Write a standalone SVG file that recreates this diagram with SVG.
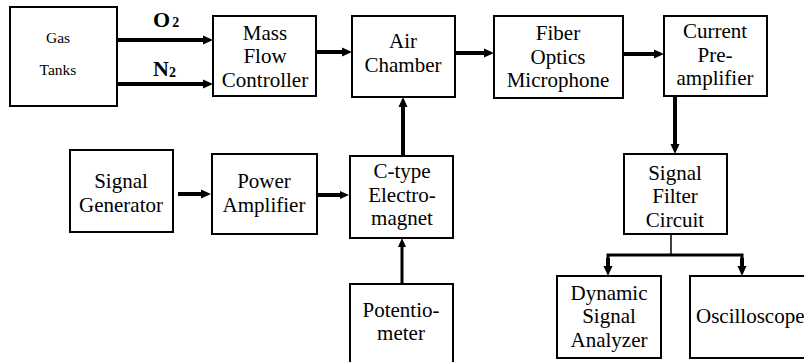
<svg xmlns="http://www.w3.org/2000/svg" width="804" height="362" viewBox="0 0 804 362" font-family="'Liberation Serif', 'Times New Roman', serif">
<style>
.box{fill:#fff;stroke:#000;stroke-width:2}
.t{font-family:"Liberation Serif","Times New Roman",serif;font-size:21px;fill:#000;text-anchor:middle}
.s{font-size:15.5px}
.lbl{font-family:"Liberation Serif","Times New Roman",serif;font-weight:bold;font-size:22px;fill:#000}
.c{fill:none;stroke:#000;stroke-width:4}
.c3{fill:none;stroke:#000;stroke-width:3}
.c1{fill:none;stroke:#000;stroke-width:1.5}
</style>
<defs>
<marker id="ah" markerUnits="userSpaceOnUse" markerWidth="11" markerHeight="10" refX="0" refY="4.5" orient="auto" overflow="visible">
<path d="M0,0 L10,4.5 L0,9 z" fill="#000"/>
</marker>
<marker id="ahs" markerUnits="userSpaceOnUse" markerWidth="10" markerHeight="8" refX="0" refY="4" orient="auto" overflow="visible">
<path d="M0,0 L9,4 L0,8 z" fill="#000"/>
</marker>
</defs>
<rect width="804" height="362" fill="#fff"/>
<g id="connectors">
<line class="c" x1="117" y1="40" x2="203" y2="40" marker-end="url(#ah)"/>
<line class="c" x1="117" y1="84" x2="203" y2="84" marker-end="url(#ah)"/>
<line class="c" x1="316" y1="52" x2="342" y2="52" marker-end="url(#ah)"/>
<line class="c" x1="455" y1="53" x2="484" y2="53" marker-end="url(#ah)"/>
<line class="c" x1="623" y1="54" x2="654" y2="54" marker-end="url(#ah)"/>
<line class="c" x1="675" y1="96" x2="675" y2="144" marker-end="url(#ah)"/>
<line class="c" x1="178" y1="194" x2="201" y2="194" marker-end="url(#ah)"/>
<line class="c" x1="317" y1="195" x2="340" y2="195" marker-end="url(#ahs)"/>
<line class="c" x1="403" y1="156" x2="403" y2="107" marker-end="url(#ah)"/>
<line class="c3" x1="402" y1="284" x2="402" y2="247" marker-end="url(#ahs)"/>
<line class="c1" x1="671" y1="234" x2="671" y2="255"/>
<polyline class="c3" points="608,266 608,255 742,255 742,266"/>
<line class="c" x1="608" y1="258" x2="608" y2="266" marker-end="url(#ah)"/>
<line class="c" x1="742" y1="258" x2="742" y2="266" marker-end="url(#ah)"/>
</g>
<g id="gas-tanks">
<rect class="box" x="10" y="7" width="107" height="99"/>
<text class="t s" x="58" y="43">Gas</text>
<text class="t s" x="58" y="75">Tanks</text>
</g>
<g id="labels">
<text class="lbl" x="153" y="27">O<tspan font-size="14" dx="2">2</tspan></text>
<text class="lbl" x="153" y="76">N<tspan font-size="14" dy="1">2</tspan></text>
</g>
<g id="mass-flow-controller">
<rect class="box" x="213" y="16" width="103" height="80"/>
<text class="t" x="265" y="40">Mass</text>
<text class="t" x="265" y="63">Flow</text>
<text class="t" x="265" y="87">Controller</text>
</g>
<g id="air-chamber">
<rect class="box" x="352" y="16" width="103" height="81"/>
<text class="t" x="403" y="48">Air</text>
<text class="t" x="403" y="72">Chamber</text>
</g>
<g id="fiber-optics-microphone">
<rect class="box" x="494" y="16" width="129" height="82"/>
<text class="t" x="558" y="40">Fiber</text>
<text class="t" x="558" y="64">Optics</text>
<text class="t" x="558" y="87">Microphone</text>
</g>
<g id="current-preamplifier">
<rect class="box" x="664" y="16" width="103" height="80"/>
<text class="t" x="715" y="38">Current</text>
<text class="t" x="715" y="62">Pre-</text>
<text class="t" x="715" y="85">amplifier</text>
</g>
<g id="signal-generator">
<rect class="box" x="70" y="150" width="103" height="82"/>
<text class="t" x="121" y="188">Signal</text>
<text class="t" x="121" y="212">Generator</text>
</g>
<g id="power-amplifier">
<rect class="box" x="212" y="154" width="105" height="80"/>
<text class="t" x="264" y="188">Power</text>
<text class="t" x="264" y="212">Amplifier</text>
</g>
<g id="c-type-electromagnet">
<rect class="box" x="350" y="156" width="103" height="82"/>
<text class="t" x="402" y="178">C-type</text>
<text class="t" x="402" y="202">Electro-</text>
<text class="t" x="402" y="225">magnet</text>
</g>
<g id="potentiometer">
<rect class="box" x="350" y="284" width="103" height="90"/>
<text class="t" x="401" y="317">Potentio-</text>
<text class="t" x="401" y="340">meter</text>
</g>
<g id="signal-filter-circuit">
<rect class="box" x="624" y="154" width="103" height="80"/>
<text class="t" x="675" y="180">Signal</text>
<text class="t" x="675" y="203">Filter</text>
<text class="t" x="675" y="227">Circuit</text>
</g>
<g id="dynamic-signal-analyzer">
<rect class="box" x="557" y="276" width="104" height="82"/>
<text class="t" x="609" y="300">Dynamic</text>
<text class="t" x="609" y="323">Signal</text>
<text class="t" x="609" y="347">Analyzer</text>
</g>
<g id="oscilloscope">
<rect class="box" x="690" y="276" width="130" height="82"/>
<text class="t" x="696" y="323" style="text-anchor:start">Oscilloscope</text>
</g>
</svg>
